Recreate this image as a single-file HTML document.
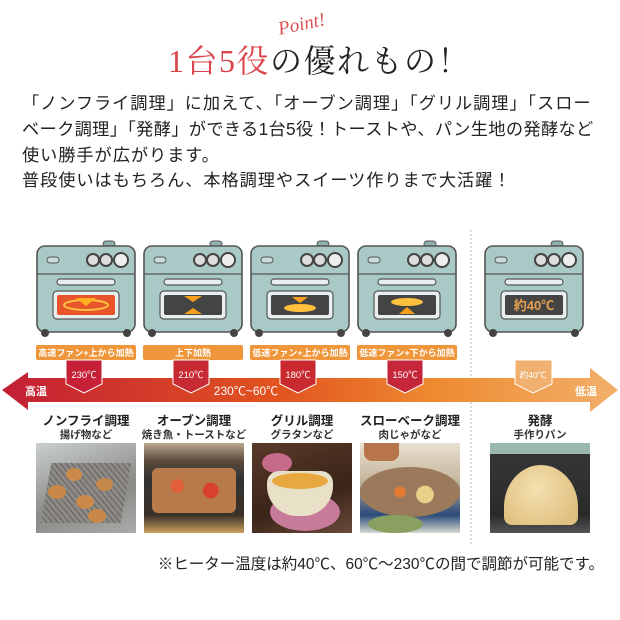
<!DOCTYPE html>
<html><head><meta charset="utf-8"><style>
*{margin:0;padding:0;box-sizing:border-box}
body{width:620px;height:620px;background:#fff;position:relative;overflow:hidden;font-family:"Liberation Sans","Noto Sans CJK JP",sans-serif;color:#222}
.abs{position:absolute;white-space:nowrap}
.p{left:22px;font-size:17.2px;line-height:20px;color:#222;letter-spacing:0.95px}
.t{font-size:12.5px;font-weight:bold;text-align:center;width:110px;color:#222}
.s{font-size:10.5px;font-weight:bold;text-align:center;width:110px;color:#333}
.ph{position:absolute;top:443px;width:100px;height:90px;overflow:hidden}
</style></head><body>
<div class="abs" style="left:278px;top:14px;font-size:19px;font-style:italic;color:#d9504f;font-family:'Liberation Serif','Noto Sans CJK JP',cursive;transform:rotate(-12deg)">Point!</div>
<div class="abs" style="left:168px;top:43px;font-size:32px;line-height:36px;letter-spacing:1.5px;font-family:'Liberation Serif','Noto Serif CJK SC',serif"><span style="color:#d9454a">1台5役</span><span style="color:#222">の優れもの！</span></div>
<div class="abs p" style="top:93px">「ノンフライ調理」に加えて、「オーブン調理」「グリル調理」「スロー</div>
<div class="abs p" style="top:119px;letter-spacing:0.35px">ベーク調理」「発酵」ができる1台5役！トーストや、パン生地の発酵など</div>
<div class="abs p" style="top:145px">使い勝手が広がります。</div>
<div class="abs p" style="top:170px">普段使いはもちろん、本格調理やスイーツ作りまで大活躍！</div>

<svg class="abs" style="left:0;top:0" width="620" height="620" viewBox="0 0 620 620">
<defs>
<g id="oven">
<rect x="68" y="-3" width="12" height="6" rx="3" fill="#8fb0ae" stroke="#555" stroke-width="1"/>
<rect x="2" y="2" width="98" height="86" rx="8" fill="#a9c9c7" stroke="#555" stroke-width="1.6"/>
<line x1="2" y1="30" x2="100" y2="30" stroke="#555" stroke-width="1.2"/>
<rect x="12" y="13" width="12" height="6" rx="3" fill="#c9dcdb" stroke="#555" stroke-width="1"/>
<circle cx="58" cy="16" r="6" fill="#ddd" stroke="#444" stroke-width="2"/>
<circle cx="71" cy="16" r="6" fill="#ddd" stroke="#444" stroke-width="2"/>
<circle cx="86" cy="16" r="7" fill="#eee" stroke="#444" stroke-width="2"/>
<rect x="22" y="35" width="58" height="6" rx="3" fill="#e8f0ef" stroke="#555" stroke-width="1.2"/>
<rect x="18" y="47" width="66" height="28" rx="4" fill="#e8f0ef" stroke="#555" stroke-width="1.2"/>
<circle cx="10" cy="89" r="4" fill="#444"/><circle cx="92" cy="89" r="4" fill="#444"/>
</g>
<linearGradient id="ar" x1="0" x2="1"><stop offset="0" stop-color="#c21f35"/><stop offset="0.45" stop-color="#e2541f"/><stop offset="0.7" stop-color="#ee8a30"/><stop offset="1" stop-color="#f2b06a"/></linearGradient>
</defs>
<g transform="translate(35,244)"><use href="#oven"/><rect x="22" y="51" width="58" height="20" rx="2" fill="#e8552a"/><ellipse cx="51" cy="61" rx="22" ry="5" fill="none" stroke="#ffc040" stroke-width="2"/><path d="M41 54h20l-10 8z" fill="#ffb020"/></g>
<g transform="translate(142,244)"><use href="#oven"/><rect x="22" y="51" width="58" height="20" rx="2" fill="#444"/><path d="M42 52h18l-9 6z M42 70h18l-9 -6z" fill="#f7a020"/></g>
<g transform="translate(249,244)"><use href="#oven"/><rect x="22" y="51" width="58" height="20" rx="2" fill="#444"/><ellipse cx="51" cy="64" rx="16" ry="4" fill="#ffc040"/><path d="M43 53h16l-8 6z" fill="#f7a020"/></g>
<g transform="translate(356,244)"><use href="#oven"/><rect x="22" y="51" width="58" height="20" rx="2" fill="#444"/><ellipse cx="51" cy="58" rx="16" ry="4" fill="#ffc040"/><path d="M43 70h16l-8 -7z" fill="#f7a020"/></g>
<g transform="translate(483,244)"><use href="#oven"/><rect x="22" y="51" width="58" height="20" rx="2" fill="#444"/><text x="51" y="66" text-anchor="middle" font-size="13" font-weight="bold" fill="#e6a050" font-family="Liberation Sans,Noto Sans CJK JP,sans-serif">約40℃</text></g>

<line x1="471" y1="230" x2="471" y2="545" stroke="#bbb" stroke-dasharray="2,2"/>
<polygon points="2,390 28,372 28,378 590,378 590,368 618,390 590,412 590,402 28,402 28,410" fill="url(#ar)"/>
<g font-family="Liberation Sans,Noto Sans CJK JP,sans-serif" font-weight="bold" fill="#fff" text-anchor="middle">
<g font-size="9">
<rect x="36" y="345" width="100" height="15" rx="2" fill="#f0963a"/><text x="86" y="356">高速ファン+上から加熱</text>
<rect x="143" y="345" width="100" height="15" rx="2" fill="#f0963a"/><text x="193" y="356">上下加熱</text>
<rect x="250" y="345" width="100" height="15" rx="2" fill="#f0963a"/><text x="300" y="356">低速ファン+上から加熱</text>
<rect x="357" y="345" width="100" height="15" rx="2" fill="#f0963a"/><text x="407" y="356">低速ファン+下から加熱</text>
</g>
<g stroke="#fff" stroke-width="1">
<polygon points="66,360 102,360 102,384 84,393 66,384" fill="#c52036"/>
<polygon points="173,360 209,360 209,384 191,393 173,384" fill="#c82a33"/>
<polygon points="280,360 316,360 316,384 298,393 280,384" fill="#c92a30"/>
<polygon points="387,360 423,360 423,384 405,393 387,384" fill="#c5263a"/>
<polygon points="515,360 552,360 552,384 533,393 515,384" fill="#f0b070"/>
</g>
<g font-size="9.5" font-weight="normal">
<text x="84" y="378">230℃</text><text x="191" y="378">210℃</text><text x="298" y="378">180℃</text><text x="405" y="378">150℃</text><text x="533" y="378" font-size="8.5">約40℃</text>
</g>
<text x="36" y="395" font-size="11">高温</text>
<text x="586" y="395" font-size="11">低温</text>
<text x="246" y="395" font-size="12" font-weight="normal">230℃~60℃</text>
</g>
</svg>

<div class="abs t" style="left:31px;top:410px">ノンフライ調理</div><div class="abs s" style="left:31px;top:427px">揚げ物など</div>
<div class="abs t" style="left:139px;top:410px">オーブン調理</div><div class="abs s" style="left:139px;top:427px">焼き魚・トーストなど</div>
<div class="abs t" style="left:247px;top:410px">グリル調理</div><div class="abs s" style="left:247px;top:427px">グラタンなど</div>
<div class="abs t" style="left:355px;top:410px">スローベーク調理</div><div class="abs s" style="left:355px;top:427px">肉じゃがなど</div>
<div class="abs t" style="left:485px;top:410px">発酵</div><div class="abs s" style="left:485px;top:427px">手作りパン</div>

<div class="ph" style="left:36px;background:linear-gradient(160deg,#c9cfcf,#8a8a86 60%,#aaa)">
<div style="position:absolute;left:10px;top:20px;width:80px;height:60px;background:repeating-linear-gradient(45deg,#666 0 1px,transparent 1px 4px),#8d8a85;transform:skewX(-10deg)"></div>
<div style="position:absolute;left:30px;top:25px;width:16px;height:13px;border-radius:50%;background:#c98a4a"></div>
<div style="position:absolute;left:12px;top:42px;width:18px;height:14px;border-radius:50%;background:#c88848"></div>
<div style="position:absolute;left:40px;top:52px;width:18px;height:14px;border-radius:50%;background:#c98a4a"></div>
<div style="position:absolute;left:60px;top:35px;width:17px;height:13px;border-radius:50%;background:#c6874a"></div>
<div style="position:absolute;left:52px;top:66px;width:18px;height:14px;border-radius:50%;background:#c88848"></div>
</div>
<div class="ph" style="left:144px;background:linear-gradient(180deg,#b8a890,#5a4a3a 20%,#333 40%,#3a3028 80%,#caa060)">
<div style="position:absolute;left:8px;top:25px;width:84px;height:45px;border-radius:6px;background:radial-gradient(circle at 30% 40%,#e0603a 10%,transparent 11%),radial-gradient(circle at 70% 50%,#d84030 12%,transparent 13%),#b87a4a"></div>
</div>
<div class="ph" style="left:252px;background:linear-gradient(160deg,#5a3a2a,#3a2418 60%,#6a4a3a)">
<div style="position:absolute;left:10px;top:10px;width:30px;height:20px;border-radius:50%;background:#c66a8a"></div>
<div style="position:absolute;left:18px;top:50px;width:70px;height:38px;border-radius:50%;background:#c87a9a"></div>
<div style="position:absolute;left:15px;top:28px;width:66px;height:45px;border-radius:12px 12px 30px 30px;background:#e9e0c8"></div>
<div style="position:absolute;left:20px;top:30px;width:56px;height:16px;border-radius:50%;background:#e8a840"></div>
</div>
<div class="ph" style="left:360px;background:linear-gradient(180deg,#e8e0d0,#c8b8a0 40%,#2a4a7a 80%,#d8d8d0)">
<div style="position:absolute;left:4px;top:0;width:35px;height:18px;background:#b8744a;border-radius:0 0 8px 8px"></div>
<div style="position:absolute;left:0;top:24px;width:100px;height:50px;border-radius:50%;background:radial-gradient(circle at 40% 50%,#e87a30 8%,transparent 9%),radial-gradient(circle at 65% 55%,#e8d08a 12%,transparent 13%),#9a7a5a"></div>
<div style="position:absolute;left:8px;top:72px;width:55px;height:18px;border-radius:50%;background:#8aa060"></div>
</div>
<div class="ph" style="left:490px;background:linear-gradient(180deg,#9ab8b0 0 12%,#333 12% 30%,#2a2a2a 80%,#555)">
<div style="position:absolute;left:14px;top:22px;width:74px;height:60px;border-radius:50% 50% 8px 8px/70% 70% 8px 8px;background:radial-gradient(circle at 45% 40%,#f4e0b0,#e0c080 80%)"></div>
</div>

<div class="abs" style="right:16px;top:552px;font-size:15.5px;color:#222">※ヒーター温度は約40℃、60℃～230℃の間で調節が可能です。</div>
</body></html>
